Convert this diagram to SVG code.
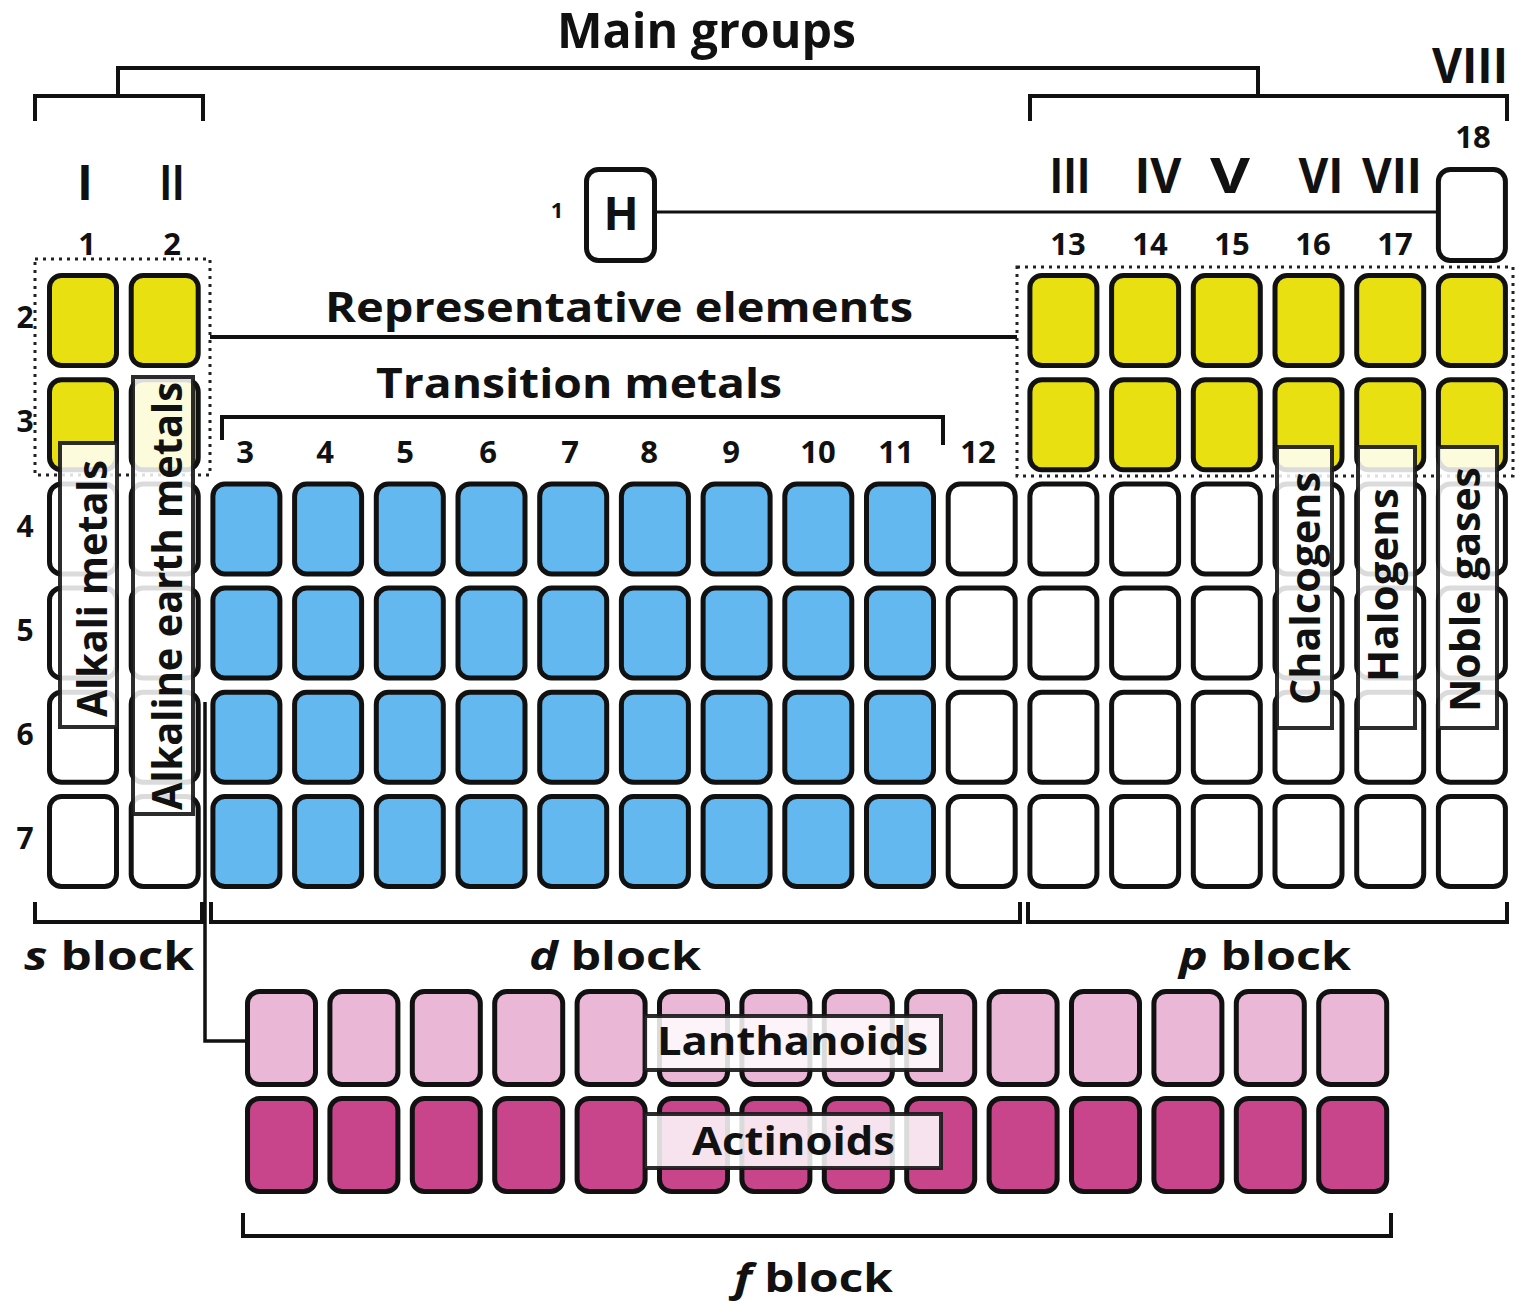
<svg xmlns="http://www.w3.org/2000/svg" width="1516" height="1301" viewBox="0 0 1516 1301">
<style>
text{font-family:"Open Sans","Noto Sans","DejaVu Sans",sans-serif;font-weight:700;fill:#111}
.cell{stroke:#111;stroke-width:5}
.y{fill:#e8e010}.b{fill:#63b8ef}.w{fill:#fff}.lp{fill:#ebb7d6}.dp{fill:#c8458c}
.ln{fill:none;stroke:#111;stroke-width:4}
.dot{fill:none;stroke:#222;stroke-width:3;stroke-dasharray:3 5}
.lbl{fill:#fff;fill-opacity:0.85;stroke:#1a1a1a;stroke-opacity:0.92;stroke-width:4}
.t48{font-size:48px}.t42{font-size:42px}.t40{font-size:40px}.t31{font-size:31px}.t30{font-size:30px}
.mid{text-anchor:middle}
</style>
<defs>
<rect id="c" width="67" height="90" rx="12"/>
<rect id="f" width="68" height="93" rx="12"/>
</defs>
<rect width="1516" height="1301" fill="#fff"/>

<g id="connectors">
<path class="ln" d="M118,96 V68 H1258 V96"/>
<path class="ln" d="M35,121 V96 H203 V121"/>
<path class="ln" d="M1030,121 V96 H1507 V121"/>
<path class="ln" style="stroke-width:3" d="M657,212 H1437"/>
<path class="ln" d="M210,337 H1017"/>
<path class="ln" d="M222,440 V417 H943 V445"/>
<path class="ln" d="M35,902 V922 H202 V902"/>
<path class="ln" d="M211,902 V922 H1020 V902"/>
<path class="ln" d="M1028,902 V922 H1507 V902"/>
<path class="ln" d="M243,1213 V1236 H1391 V1213"/>
<path class="ln" style="stroke-width:3.5" d="M205,702 V1041 H247"/>
</g>

<g id="period1">
<rect id="cell-H" class="cell w" x="586.5" y="169.5" width="68" height="91" rx="12"/>
<rect id="cell-18-1" class="cell w" x="1438.4" y="169.5" width="67" height="91" rx="12"/>
</g>

<g id="period2">
<use href="#c" class="cell y" x="49.5" y="275.5"/>
<use href="#c" class="cell y" x="131.2" y="275.5"/>
<use href="#c" class="cell y" x="1029.9" y="275.5"/>
<use href="#c" class="cell y" x="1111.6" y="275.5"/>
<use href="#c" class="cell y" x="1193.3" y="275.5"/>
<use href="#c" class="cell y" x="1275" y="275.5"/>
<use href="#c" class="cell y" x="1356.7" y="275.5"/>
<use href="#c" class="cell y" x="1438.4" y="275.5"/>
</g>
<g id="period3">
<use href="#c" class="cell y" x="49.5" y="379.7"/>
<use href="#c" class="cell y" x="131.2" y="379.7"/>
<use href="#c" class="cell y" x="1029.9" y="379.7"/>
<use href="#c" class="cell y" x="1111.6" y="379.7"/>
<use href="#c" class="cell y" x="1193.3" y="379.7"/>
<use href="#c" class="cell y" x="1275" y="379.7"/>
<use href="#c" class="cell y" x="1356.7" y="379.7"/>
<use href="#c" class="cell y" x="1438.4" y="379.7"/>
</g>
<g id="period4">
<use href="#c" class="cell w" x="49.5" y="483.9"/>
<use href="#c" class="cell w" x="131.2" y="483.9"/>
<use href="#c" class="cell b" x="212.9" y="483.9"/>
<use href="#c" class="cell b" x="294.6" y="483.9"/>
<use href="#c" class="cell b" x="376.3" y="483.9"/>
<use href="#c" class="cell b" x="458" y="483.9"/>
<use href="#c" class="cell b" x="539.7" y="483.9"/>
<use href="#c" class="cell b" x="621.4" y="483.9"/>
<use href="#c" class="cell b" x="703.1" y="483.9"/>
<use href="#c" class="cell b" x="784.8" y="483.9"/>
<use href="#c" class="cell b" x="866.5" y="483.9"/>
<use href="#c" class="cell w" x="948.2" y="483.9"/>
<use href="#c" class="cell w" x="1029.9" y="483.9"/>
<use href="#c" class="cell w" x="1111.6" y="483.9"/>
<use href="#c" class="cell w" x="1193.3" y="483.9"/>
<use href="#c" class="cell w" x="1275" y="483.9"/>
<use href="#c" class="cell w" x="1356.7" y="483.9"/>
<use href="#c" class="cell w" x="1438.4" y="483.9"/>
</g>
<g id="period5">
<use href="#c" class="cell w" x="49.5" y="588.1"/>
<use href="#c" class="cell w" x="131.2" y="588.1"/>
<use href="#c" class="cell b" x="212.9" y="588.1"/>
<use href="#c" class="cell b" x="294.6" y="588.1"/>
<use href="#c" class="cell b" x="376.3" y="588.1"/>
<use href="#c" class="cell b" x="458" y="588.1"/>
<use href="#c" class="cell b" x="539.7" y="588.1"/>
<use href="#c" class="cell b" x="621.4" y="588.1"/>
<use href="#c" class="cell b" x="703.1" y="588.1"/>
<use href="#c" class="cell b" x="784.8" y="588.1"/>
<use href="#c" class="cell b" x="866.5" y="588.1"/>
<use href="#c" class="cell w" x="948.2" y="588.1"/>
<use href="#c" class="cell w" x="1029.9" y="588.1"/>
<use href="#c" class="cell w" x="1111.6" y="588.1"/>
<use href="#c" class="cell w" x="1193.3" y="588.1"/>
<use href="#c" class="cell w" x="1275" y="588.1"/>
<use href="#c" class="cell w" x="1356.7" y="588.1"/>
<use href="#c" class="cell w" x="1438.4" y="588.1"/>
</g>
<g id="period6">
<use href="#c" class="cell w" x="49.5" y="692.3"/>
<use href="#c" class="cell w" x="131.2" y="692.3"/>
<use href="#c" class="cell b" x="212.9" y="692.3"/>
<use href="#c" class="cell b" x="294.6" y="692.3"/>
<use href="#c" class="cell b" x="376.3" y="692.3"/>
<use href="#c" class="cell b" x="458" y="692.3"/>
<use href="#c" class="cell b" x="539.7" y="692.3"/>
<use href="#c" class="cell b" x="621.4" y="692.3"/>
<use href="#c" class="cell b" x="703.1" y="692.3"/>
<use href="#c" class="cell b" x="784.8" y="692.3"/>
<use href="#c" class="cell b" x="866.5" y="692.3"/>
<use href="#c" class="cell w" x="948.2" y="692.3"/>
<use href="#c" class="cell w" x="1029.9" y="692.3"/>
<use href="#c" class="cell w" x="1111.6" y="692.3"/>
<use href="#c" class="cell w" x="1193.3" y="692.3"/>
<use href="#c" class="cell w" x="1275" y="692.3"/>
<use href="#c" class="cell w" x="1356.7" y="692.3"/>
<use href="#c" class="cell w" x="1438.4" y="692.3"/>
</g>
<g id="period7">
<use href="#c" class="cell w" x="49.5" y="796.5"/>
<use href="#c" class="cell w" x="131.2" y="796.5"/>
<use href="#c" class="cell b" x="212.9" y="796.5"/>
<use href="#c" class="cell b" x="294.6" y="796.5"/>
<use href="#c" class="cell b" x="376.3" y="796.5"/>
<use href="#c" class="cell b" x="458" y="796.5"/>
<use href="#c" class="cell b" x="539.7" y="796.5"/>
<use href="#c" class="cell b" x="621.4" y="796.5"/>
<use href="#c" class="cell b" x="703.1" y="796.5"/>
<use href="#c" class="cell b" x="784.8" y="796.5"/>
<use href="#c" class="cell b" x="866.5" y="796.5"/>
<use href="#c" class="cell w" x="948.2" y="796.5"/>
<use href="#c" class="cell w" x="1029.9" y="796.5"/>
<use href="#c" class="cell w" x="1111.6" y="796.5"/>
<use href="#c" class="cell w" x="1193.3" y="796.5"/>
<use href="#c" class="cell w" x="1275" y="796.5"/>
<use href="#c" class="cell w" x="1356.7" y="796.5"/>
<use href="#c" class="cell w" x="1438.4" y="796.5"/>
</g>
<g id="lanthanoid-row">
<use href="#f" class="cell lp" x="247.5" y="991.5"/>
<use href="#f" class="cell lp" x="329.9" y="991.5"/>
<use href="#f" class="cell lp" x="412.3" y="991.5"/>
<use href="#f" class="cell lp" x="494.7" y="991.5"/>
<use href="#f" class="cell lp" x="577.1" y="991.5"/>
<use href="#f" class="cell lp" x="659.5" y="991.5"/>
<use href="#f" class="cell lp" x="741.9" y="991.5"/>
<use href="#f" class="cell lp" x="824.3" y="991.5"/>
<use href="#f" class="cell lp" x="906.7" y="991.5"/>
<use href="#f" class="cell lp" x="989.1" y="991.5"/>
<use href="#f" class="cell lp" x="1071.5" y="991.5"/>
<use href="#f" class="cell lp" x="1153.9" y="991.5"/>
<use href="#f" class="cell lp" x="1236.3" y="991.5"/>
<use href="#f" class="cell lp" x="1318.7" y="991.5"/>
</g>
<g id="actinoid-row">
<use href="#f" class="cell dp" x="247.5" y="1098.5"/>
<use href="#f" class="cell dp" x="329.9" y="1098.5"/>
<use href="#f" class="cell dp" x="412.3" y="1098.5"/>
<use href="#f" class="cell dp" x="494.7" y="1098.5"/>
<use href="#f" class="cell dp" x="577.1" y="1098.5"/>
<use href="#f" class="cell dp" x="659.5" y="1098.5"/>
<use href="#f" class="cell dp" x="741.9" y="1098.5"/>
<use href="#f" class="cell dp" x="824.3" y="1098.5"/>
<use href="#f" class="cell dp" x="906.7" y="1098.5"/>
<use href="#f" class="cell dp" x="989.1" y="1098.5"/>
<use href="#f" class="cell dp" x="1071.5" y="1098.5"/>
<use href="#f" class="cell dp" x="1153.9" y="1098.5"/>
<use href="#f" class="cell dp" x="1236.3" y="1098.5"/>
<use href="#f" class="cell dp" x="1318.7" y="1098.5"/>
</g>

<g id="representative-frames">
<rect class="dot" x="35" y="259" width="175" height="216"/>
<rect class="dot" x="1017" y="267" width="496" height="209"/>
</g>

<g id="headings">
<text class="t48 mid" x="706.5" y="48" textLength="299" lengthAdjust="spacingAndGlyphs">Main groups</text>
<text class="t48 mid" x="85" y="200">I</text>
<text class="t48 mid" x="172" y="200" textLength="25" lengthAdjust="spacingAndGlyphs">II</text>
<text class="t48 mid" x="1070" y="193" textLength="41" lengthAdjust="spacingAndGlyphs">III</text>
<text class="t48 mid" x="1158" y="193" textLength="47" lengthAdjust="spacingAndGlyphs">IV</text>
<text class="t48 mid" x="1230" y="193" textLength="40" lengthAdjust="spacingAndGlyphs">V</text>
<text class="t48 mid" x="1321" y="193" textLength="45" lengthAdjust="spacingAndGlyphs">VI</text>
<text class="t48 mid" x="1392" y="193" textLength="60" lengthAdjust="spacingAndGlyphs">VII</text>
<text class="t48" x="1432" y="83" textLength="76" lengthAdjust="spacingAndGlyphs">VIII</text>
<text class="t42 mid" x="619" y="322" textLength="588" lengthAdjust="spacingAndGlyphs">Representative elements</text>
<text class="t42 mid" x="579" y="398" textLength="406" lengthAdjust="spacingAndGlyphs">Transition metals</text>
<text class="t40" x="24" y="970" textLength="170" lengthAdjust="spacingAndGlyphs"><tspan font-style="italic">s</tspan> block</text>
<text class="t40" x="529" y="970" textLength="172" lengthAdjust="spacingAndGlyphs"><tspan font-style="italic">d</tspan> block</text>
<text class="t40" x="1179" y="970" textLength="172" lengthAdjust="spacingAndGlyphs"><tspan font-style="italic">p</tspan> block</text>
<text class="t40" x="734" y="1292" textLength="159" lengthAdjust="spacingAndGlyphs"><tspan font-style="italic">f</tspan> block</text>
</g>

<g id="group-numbers">
<text class="t31 mid" x="87" y="255">1</text>
<text class="t31 mid" x="172" y="255">2</text>
<text class="t31 mid" x="245" y="463">3</text>
<text class="t31 mid" x="325" y="463">4</text>
<text class="t31 mid" x="405" y="463">5</text>
<text class="t31 mid" x="488" y="463">6</text>
<text class="t31 mid" x="570" y="463">7</text>
<text class="t31 mid" x="649" y="463">8</text>
<text class="t31 mid" x="731" y="463">9</text>
<text class="t31 mid" x="818" y="463">10</text>
<text class="t31 mid" x="896" y="463">11</text>
<text class="t31 mid" x="978" y="463">12</text>
<text class="t31 mid" x="1068" y="255">13</text>
<text class="t31 mid" x="1150" y="255">14</text>
<text class="t31 mid" x="1232" y="255">15</text>
<text class="t31 mid" x="1313" y="255">16</text>
<text class="t31 mid" x="1395" y="255">17</text>
<text class="t31 mid" x="1473" y="148">18</text>
</g>

<g id="period-numbers">
<text class="mid" style="font-size:22px" x="557" y="218">1</text>
<text class="t30 mid" x="25" y="328">2</text>
<text class="t30 mid" x="25" y="432">3</text>
<text class="t30 mid" x="25" y="537">4</text>
<text class="t30 mid" x="25" y="641">5</text>
<text class="t30 mid" x="25" y="745">6</text>
<text class="t30 mid" x="25" y="849">7</text>
</g>

<g id="hydrogen-label">
<text class="mid" style="font-size:46px" x="621" y="230">H</text>
</g>

<g id="label-alkali">
<rect class="lbl" x="60" y="443" width="57" height="284"/>
<text class="t42 mid" transform="translate(107,588.5) rotate(-90)" textLength="257" lengthAdjust="spacingAndGlyphs">Alkali metals</text>
</g>
<g id="label-alkaline-earth">
<rect class="lbl" x="133" y="377" width="60" height="437"/>
<text class="t42 mid" transform="translate(182,596) rotate(-90)" textLength="428" lengthAdjust="spacingAndGlyphs">Alkaline earth metals</text>
</g>
<g id="label-chalcogens">
<rect class="lbl" x="1277" y="447" width="55" height="281"/>
<text class="t42 mid" transform="translate(1320,588.5) rotate(-90)" textLength="233" lengthAdjust="spacingAndGlyphs">Chalcogens</text>
</g>
<g id="label-halogens">
<rect class="lbl" x="1358" y="447" width="57" height="281"/>
<text class="t42 mid" transform="translate(1398,585) rotate(-90)" textLength="194" lengthAdjust="spacingAndGlyphs">Halogens</text>
</g>
<g id="label-noble-gases">
<rect class="lbl" x="1438" y="447" width="59" height="281"/>
<text class="t42 mid" transform="translate(1480,589.5) rotate(-90)" textLength="245" lengthAdjust="spacingAndGlyphs">Noble gases</text>
</g>
<g id="label-lanthanoids">
<rect class="lbl" x="645" y="1016" width="296" height="54"/>
<text class="t40 mid" x="792.5" y="1055" textLength="271" lengthAdjust="spacingAndGlyphs">Lanthanoids</text>
</g>
<g id="label-actinoids">
<rect class="lbl" x="645" y="1114" width="296" height="54"/>
<text class="t40 mid" x="793.5" y="1155" textLength="203" lengthAdjust="spacingAndGlyphs">Actinoids</text>
</g>
</svg>
